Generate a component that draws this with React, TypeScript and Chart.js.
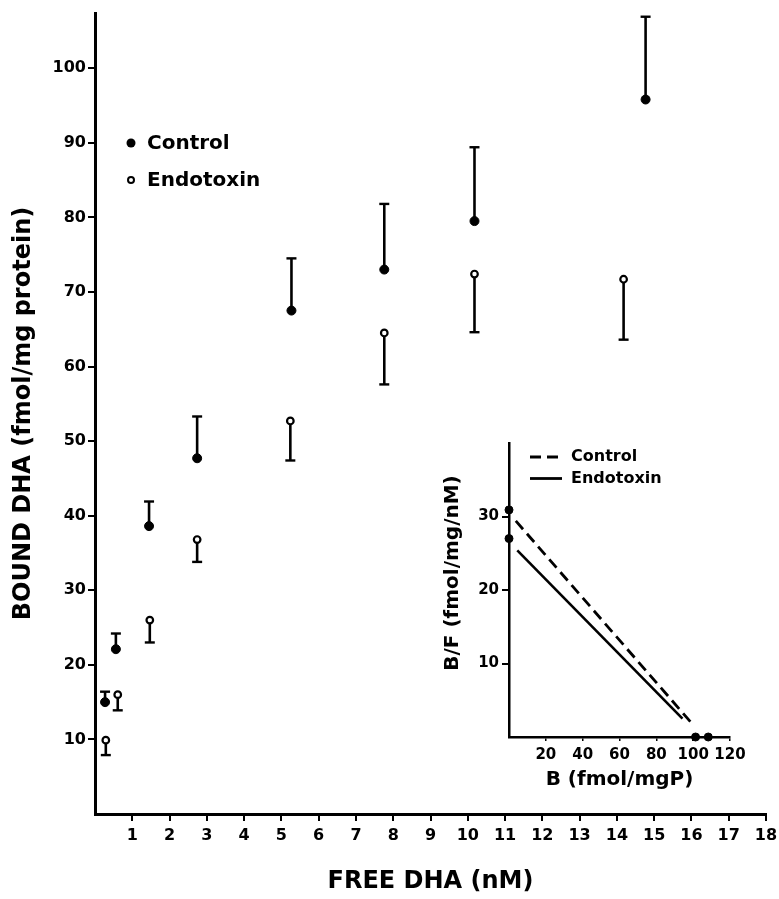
import React, { useEffect, useRef } from 'react';
import { Chart, registerables } from 'chart.js';

Chart.register(...registerables);

const FONT = "'DejaVu Sans', 'Liberation Sans', sans-serif";

// ---------- main chart data ----------
const seriesLabels = ['Control', 'Endotoxin'];
const controlX = [0.27, 0.56, 1.45, 2.74, 5.27, 7.76, 10.18, 14.77];
const controlY = [15.0, 22.1, 38.6, 47.7, 67.5, 73.0, 79.5, 95.8];
const controlErr = [1.4, 2.1, 3.3, 5.6, 7.0, 8.8, 9.9, 11.1];
const endoX = [0.29, 0.61, 1.47, 2.74, 5.24, 7.76, 10.18, 14.18];
const endoY = [9.9, 16.0, 26.0, 36.8, 52.7, 64.5, 72.4, 71.7];
const endoErr = [2.0, 2.1, 3.0, 3.0, 5.3, 6.9, 7.8, 8.1];
const xTicks = [1, 2, 3, 4, 5, 6, 7, 8, 9, 10, 11, 12, 13, 14, 15, 16, 17, 18];
const yTicks = [10, 20, 30, 40, 50, 60, 70, 80, 90, 100];
const xMin = 0;
const xMax = 18;
const yMin = 0;
const yMax = 107.4;

// ---------- inset (Scatchard) data ----------
const insetControlLineX = [3.7, 99.1];
const insetControlLineY = [29.4, 1.9];
const insetEndoLineX = [4.5, 94.2];
const insetEndoLineY = [25.4, 2.5];
const insetDotsX = [0, 0, 101.3, 108.2];
const insetDotsY = [30.9, 27.0, 0, 0];
const insetXTicks = [20, 40, 60, 80, 100, 120];
const insetYTicks = [10, 20, 30];
const insetXMax = 120;
const insetYMax = 40;

const zip = (xs: number[], ys: number[]) => xs.map((x, i) => ({ x, y: ys[i] }));

const errorBarPlugin = {
  id: 'errorBars',
  beforeDatasetsDraw(chart: any) {
    const { ctx, scales } = chart;
    const xs = scales.x;
    const ys = scales.y;
    chart.data.datasets.forEach((ds: any) => {
      if (!ds.errors) return;
      ds.data.forEach((pt: any, i: number) => {
        const px = xs.getPixelForValue(pt.x);
        const py = ys.getPixelForValue(pt.y);
        const ey = ys.getPixelForValue(pt.y + ds.errDir * ds.errors[i]);
        ctx.save();
        ctx.strokeStyle = '#000';
        ctx.lineWidth = 2.6;
        ctx.beginPath();
        ctx.moveTo(px, py);
        ctx.lineTo(px, ey);
        ctx.stroke();
        ctx.lineWidth = 2.4;
        ctx.beginPath();
        ctx.moveTo(px - 5, ey);
        ctx.lineTo(px + 5, ey);
        ctx.stroke();
        ctx.restore();
      });
    });
  },
};

const mainLegendPlugin = {
  id: 'mainLegend',
  afterDraw(chart: any) {
    const { ctx } = chart;
    const bx = 131;
    const tx = 147;
    const rows = [143, 180];
    ctx.save();
    ctx.font = `bold 20px ${FONT}`;
    ctx.textBaseline = 'middle';
    ctx.textAlign = 'left';
    ctx.fillStyle = '#000';
    rows.forEach((ry, i) => {
      ctx.beginPath();
      if (i === 0) {
        ctx.arc(bx, ry, 4.5, 0, Math.PI * 2);
        ctx.fillStyle = '#000';
        ctx.fill();
      } else {
        ctx.arc(bx, ry, 3, 0, Math.PI * 2);
        ctx.fillStyle = '#fff';
        ctx.fill();
        ctx.lineWidth = 2;
        ctx.strokeStyle = '#000';
        ctx.stroke();
      }
      ctx.fillStyle = '#000';
      ctx.fillText(seriesLabels[i], tx, ry + 1);
    });
    ctx.restore();
  },
};

const insetDecorPlugin = {
  id: 'insetDecor',
  afterDraw(chart: any) {
    const { ctx } = chart;
    ctx.save();
    // legend
    ctx.strokeStyle = '#000';
    ctx.lineWidth = 2.8;
    ctx.setLineDash([11, 6]);
    ctx.beginPath();
    ctx.moveTo(100, 21);
    ctx.lineTo(131, 21);
    ctx.stroke();
    ctx.setLineDash([]);
    ctx.beginPath();
    ctx.moveTo(100, 42.5);
    ctx.lineTo(132, 42.5);
    ctx.stroke();
    ctx.fillStyle = '#000';
    ctx.font = `bold 16px ${FONT}`;
    ctx.textBaseline = 'middle';
    ctx.textAlign = 'left';
    ctx.fillText(seriesLabels[0], 141, 21);
    ctx.fillText(seriesLabels[1], 141, 42.5);
    // y title
    ctx.translate(23, 137);
    ctx.rotate(-Math.PI / 2);
    ctx.textAlign = 'center';
    ctx.font = `bold 20px ${FONT}`;
    ctx.fillText('B/F (fmol/mg/nM)', 0, 0);
    ctx.restore();
  },
};

export default function App() {
  const mainRef = useRef<HTMLCanvasElement>(null);
  const insetRef = useRef<HTMLCanvasElement>(null);

  useEffect(() => {
    document.body.style.margin = '0';
    const tickFont = { family: FONT, size: 16, weight: 'bold' as const };
    const main = new Chart(mainRef.current as HTMLCanvasElement, {
      type: 'scatter',
      data: {
        datasets: [
          {
            label: seriesLabels[0],
            data: zip(controlX, controlY),
            errors: controlErr,
            errDir: 1,
            pointRadius: 4.5,
            pointBackgroundColor: '#000',
            pointBorderColor: '#000',
            pointBorderWidth: 1,
            clip: false,
          } as any,
          {
            label: seriesLabels[1],
            data: zip(endoX, endoY),
            errors: endoErr,
            errDir: -1,
            pointRadius: 3.3,
            pointBackgroundColor: '#fff',
            pointBorderColor: '#000',
            pointBorderWidth: 2.2,
            clip: false,
          } as any,
        ],
      },
      options: {
        animation: false,
        responsive: false,
        maintainAspectRatio: false,
        layout: { padding: { left: 0, right: 13, top: 13, bottom: 0 } },
        plugins: { legend: { display: false }, tooltip: { enabled: false } },
        scales: {
          x: {
            type: 'linear',
            min: xMin,
            max: xMax,
            afterBuildTicks: (s: any) => {
              s.ticks = xTicks.map((v) => ({ value: v }));
            },
            afterFit: (s: any) => {
              s.height = 85;
              s.paddingLeft = 0;
              s.paddingRight = 0;
            },
            ticks: { color: '#000', font: tickFont, padding: 5, maxRotation: 0, autoSkip: false },
            grid: { drawOnChartArea: false, drawTicks: true, tickLength: 7, color: '#000', lineWidth: 2 },
            border: { display: true, color: '#000', width: 3 },
            title: {
              display: true,
              text: 'FREE DHA (nM)',
              color: '#000',
              font: { family: FONT, size: 24, weight: 'bold' },
              padding: { top: 0, bottom: 3 },
            },
          },
          y: {
            type: 'linear',
            min: yMin,
            max: yMax,
            afterBuildTicks: (s: any) => {
              s.ticks = yTicks.map((v) => ({ value: v }));
            },
            afterFit: (s: any) => {
              s.width = 95;
              s.paddingTop = 0;
              s.paddingBottom = 0;
            },
            ticks: { color: '#000', font: tickFont, padding: 2, autoSkip: false },
            grid: { drawOnChartArea: false, drawTicks: true, tickLength: 7, color: '#000', lineWidth: 2 },
            border: { display: true, color: '#000', width: 3 },
            title: {
              display: true,
              text: 'BOUND DHA (fmol/mg protein)',
              color: '#000',
              font: { family: FONT, size: 24, weight: 'bold' },
              padding: { top: 9, bottom: 0 },
            },
          },
        },
      } as any,
      plugins: [errorBarPlugin, mainLegendPlugin],
    });

    const insetTickFont = { family: FONT, size: 15, weight: 'bold' as const };
    const inset = new Chart(insetRef.current as HTMLCanvasElement, {
      type: 'scatter',
      data: {
        datasets: [
          {
            label: seriesLabels[0],
            data: zip(insetControlLineX, insetControlLineY),
            showLine: true,
            borderColor: '#000',
            borderWidth: 2.8,
            borderDash: [11, 6],
            pointRadius: 0,
            clip: false,
          } as any,
          {
            label: seriesLabels[1],
            data: zip(insetEndoLineX, insetEndoLineY),
            showLine: true,
            borderColor: '#000',
            borderWidth: 2.6,
            pointRadius: 0,
            clip: false,
          } as any,
          {
            label: 'intercepts',
            data: zip(insetDotsX, insetDotsY),
            pointRadius: 4,
            pointBackgroundColor: '#000',
            pointBorderColor: '#000',
            clip: false,
          } as any,
        ],
      },
      options: {
        animation: false,
        responsive: false,
        maintainAspectRatio: false,
        layout: { padding: { left: 0, right: 20, top: 7, bottom: 0 } },
        plugins: { legend: { display: false }, tooltip: { enabled: false } },
        scales: {
          x: {
            type: 'linear',
            min: 0,
            max: insetXMax,
            afterBuildTicks: (s: any) => {
              s.ticks = insetXTicks.map((v) => ({ value: v }));
            },
            afterFit: (s: any) => {
              s.height = 55;
              s.paddingLeft = 0;
              s.paddingRight = 0;
            },
            ticks: { color: '#000', font: insetTickFont, padding: 5, maxRotation: 0, autoSkip: false },
            grid: { drawOnChartArea: false, drawTicks: true, tickLength: 4, color: '#000', lineWidth: 1.5 },
            border: { display: true, color: '#000', width: 2.5 },
            title: {
              display: true,
              text: 'B (fmol/mgP)',
              color: '#000',
              font: { family: FONT, size: 20, weight: 'bold' },
              padding: { top: 0, bottom: 0 },
            },
          },
          y: {
            type: 'linear',
            min: 0,
            max: insetYMax,
            afterBuildTicks: (s: any) => {
              s.ticks = insetYTicks.map((v) => ({ value: v }));
            },
            afterFit: (s: any) => {
              s.width = 79;
              s.paddingTop = 0;
              s.paddingBottom = 0;
            },
            ticks: { color: '#000', font: insetTickFont, padding: 3, autoSkip: false },
            grid: { drawOnChartArea: false, drawTicks: true, tickLength: 7, color: '#000', lineWidth: 2 },
            border: { display: true, color: '#000', width: 2.5 },
          },
        },
      } as any,
      plugins: [insetDecorPlugin],
    });

    return () => {
      main.destroy();
      inset.destroy();
    };
  }, []);

  return (
    <div style={{ position: 'relative', width: 779, height: 899, background: '#fff' }}>
      <canvas
        ref={mainRef}
        width={779}
        height={899}
        style={{ position: 'absolute', left: 0, top: 0, width: 779, height: 899 }}
      />
      <canvas
        ref={insetRef}
        width={320}
        height={356}
        style={{ position: 'absolute', left: 430, top: 436, width: 320, height: 356 }}
      />
    </div>
  );
}
